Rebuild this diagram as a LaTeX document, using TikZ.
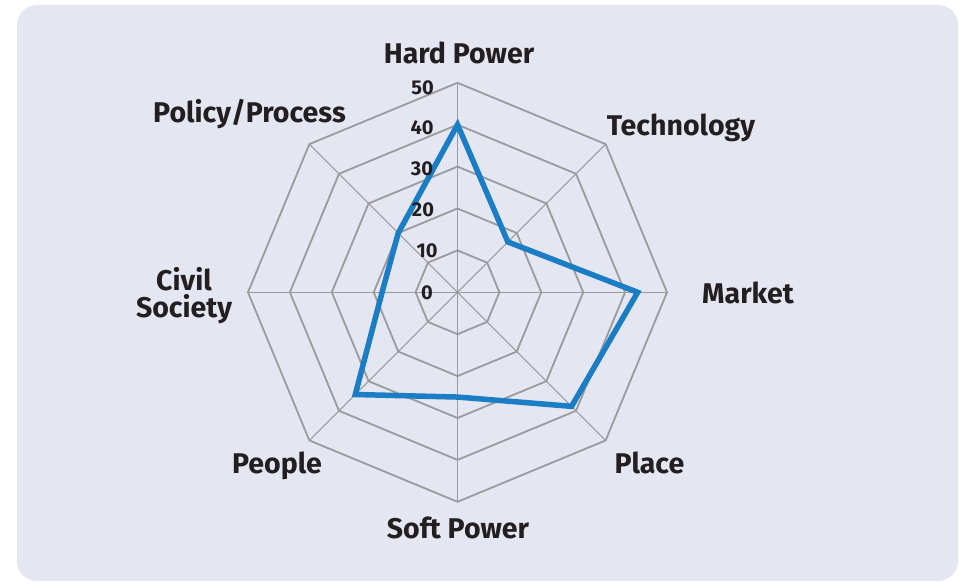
\documentclass[tikz,border=0pt]{standalone}
\usepackage{fontspec}
\setmainfont{Fira Sans}
\definecolor{bg}{RGB}{228,230,242}
\definecolor{ink}{RGB}{35,31,32}
\definecolor{gridc}{RGB}{155,155,158}
\definecolor{blue1}{RGB}{27,125,196}
\begin{document}
\begin{tikzpicture}[x=1pt,y=1pt,
  lbl/.style={font=\fontsize{28.5}{27}\selectfont\bfseries, text=ink, inner sep=0pt, align=center},
  tick/.style={font=\fontsize{20}{20}\selectfont\bfseries, text=ink, inner sep=0pt},
  ring/.style={draw=gridc, line width=1.8pt, line join=miter},
  spoke/.style={draw=gridc, line width=1.1pt},
  series/.style={draw=blue1, line width=5.5pt, line join=miter}]
\useasboundingbox (0,0) rectangle (962,583);
\fill[white] (0,0) rectangle (962,583);
\fill[bg, rounded corners=20pt] (17,2) rectangle (958,578);
\begin{scope}[shift={(457.5,290.7)}]
  \coordinate (O) at (0,0);
  \foreach \a in {90,45,0,-45,-90,-135,-180,-225}
    \draw[spoke] (O) -- (\a:209.5);
  \foreach \r in {41.9,83.8,125.7,167.6,209.5}
    \draw[ring] (90:\r) -- (45:\r) -- (0:\r) -- (-45:\r) -- (-90:\r) -- (-135:\r) -- (-180:\r) -- (-225:\r) -- cycle;
  \coordinate (hp) at (90:40*4.19);
  \coordinate (te) at (45:17*4.19);
  \coordinate (ma) at (0:43*4.19);
  \coordinate (pl) at (-45:38.5*4.19);
  \coordinate (sp) at (-90:25*4.19);
  \coordinate (pe) at (-135:34.5*4.19);
  \coordinate (cs) at (-180:18*4.19);
  \coordinate (pp) at (-225:20*4.19);
  \draw[series] (hp) -- (te) -- (ma) -- (pl) -- (sp) -- (pe) -- (cs) -- (pp) -- cycle;
\end{scope}
\node[tick] (t50) at (422.7,495.7) {50};
\node[tick] (t40) at (422,455) {40};
\node[tick] (t30) at (422,414) {30};
\node[tick] (t20) at (423,373) {20};
\node[tick] (t10) at (427,332.3) {10};
\node[tick] (t0) at (427,290.7) {0};
\node[lbl, anchor=base] (lhp) at (459,519.7) {Hard Power};
\node[lbl, anchor=base] (lte) at (681,447.3) {Technology};
\node[lbl, anchor=base] (lma) at (748,279) {Market};
\node[lbl, anchor=base] (lpl) at (649.5,109) {Place};
\node[lbl, anchor=base] (lsp) at (458,44.7) {Soft Power};
\node[lbl, anchor=base] (lpe) at (277,109) {People};
\node[lbl, anchor=base] (lcs) at (184,265.7) {Civil\\Society};
\node[lbl, anchor=base] (lpp) at (249.5,460) {Policy/Process};
\end{tikzpicture}
\end{document}
